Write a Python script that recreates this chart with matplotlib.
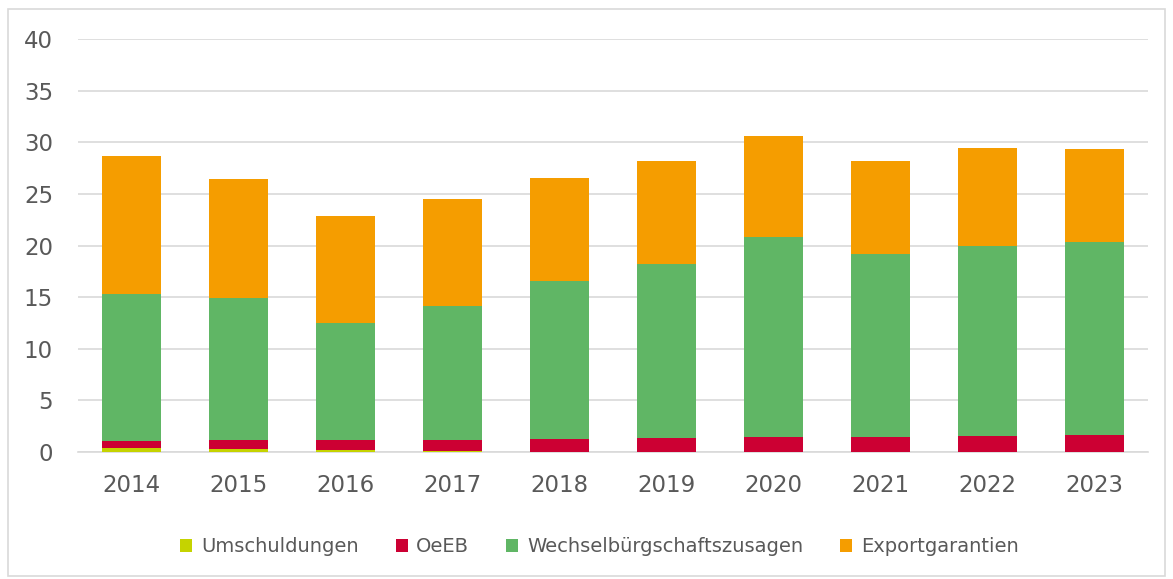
import matplotlib
matplotlib.use("Agg")
import matplotlib.pyplot as plt
from matplotlib.patches import Rectangle

# Daten (Mrd. EUR)
jahre = ['2014', '2015', '2016', '2017', '2018', '2019', '2020', '2021', '2022', '2023']
umschuldungen = [0.35, 0.25, 0.15, 0.12, 0.03, 0, 0, 0, 0, 0]
oeeb = [0.75, 0.95, 0.98, 1.0, 1.2, 1.38, 1.48, 1.48, 1.58, 1.67]
wechsel = [14.2, 13.7, 11.37, 13.0, 15.3, 16.8, 19.3, 17.7, 18.4, 18.7]
export = [13.4, 11.5, 10.4, 10.4, 10.05, 10.0, 9.8, 9.05, 9.5, 9.0]

serien = [
    ('Umschuldungen', umschuldungen, '#C5D300'),
    ('OeEB', oeeb, '#CC0033'),
    ('Wechselbürgschaftszusagen', wechsel, '#60B665'),
    ('Exportgarantien', export, '#F59D00'),
]

plt.rcParams['font.family'] = ['DejaVu Sans']

fig = plt.figure(figsize=(11.73, 5.79), dpi=100)
ax = fig.add_axes([0.0665, 0.2193, 0.9122, 0.7133])

x = range(len(jahre))
unten = [0] * len(jahre)
for name, werte, farbe in serien:
    ax.bar(x, werte, bottom=unten, width=0.56, color=farbe, label=name, zorder=3)
    unten = [u + w for u, w in zip(unten, werte)]

ax.set_xlim(-0.5, len(jahre) - 0.5)
ax.set_ylim(0, 40)
ax.set_yticks(range(0, 41, 5))
ax.set_xticks(list(x))
ax.set_xticklabels(jahre)
ax.tick_params(axis='both', length=0, labelsize=16.5, colors='#595959')
ax.tick_params(axis='y', pad=18)
ax.tick_params(axis='x', pad=16)
ax.grid(axis='y', color='#D9D9D9', linewidth=1.2, zorder=0)
for s in ['top', 'right', 'left']:
    ax.spines[s].set_visible(False)
ax.spines['bottom'].set_color('#D9D9D9')
ax.spines['bottom'].set_linewidth(1.2)

leg = fig.legend(loc='center', bbox_to_anchor=(0.511, 0.056), ncol=4, frameon=False,
                 fontsize=14, handlelength=0.62, handleheight=0.62, handletextpad=0.45,
                 columnspacing=1.9)
for t in leg.get_texts():
    t.set_color('#595959')

# Rahmen um die Grafik
fig.patches.append(Rectangle((0.007, 0.006), 0.986, 0.978, transform=fig.transFigure,
                             fill=False, edgecolor='#D9D9D9', linewidth=1.2))

fig.savefig('out.png', dpi=100)
